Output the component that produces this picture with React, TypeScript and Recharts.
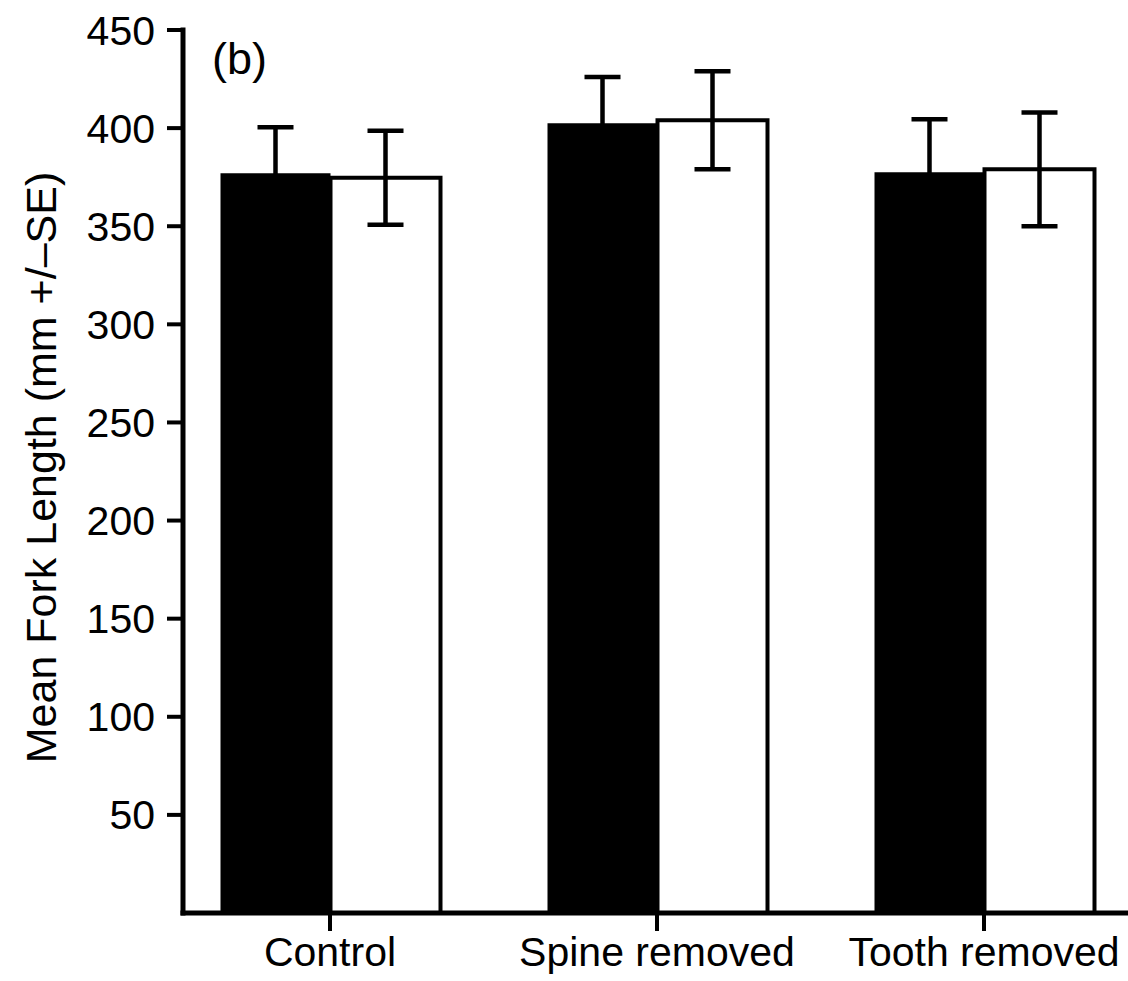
import { BarChart, Bar, XAxis, YAxis, ErrorBar, Label } from 'recharts';

const categories = ['Control', 'Spine removed', 'Tooth removed'];
const blackMeans = [377, 402.5, 377.5];
const blackSE = [23.5, 23.5, 27];
const whiteMeans = [374.7, 404, 379];
const whiteSE = [24, 25, 29];
const yTicks = [50, 100, 150, 200, 250, 300, 350, 400, 450];

const data = categories.map((name, i) => ({
  name,
  black: blackMeans[i],
  blackErr: blackSE[i],
  white: whiteMeans[i],
  whiteErr: whiteSE[i],
}));

const font = '"Liberation Sans", Arial, Helvetica, sans-serif';

export default function App() {
  return (
    <div style={{ position: 'absolute', left: 0, top: 0, background: '#fff' }}>
      <BarChart
        width={1128}
        height={981}
        data={data}
        margin={{ top: 30, right: 0, bottom: 0, left: 0 }}
        barGap={0}
        style={{ fontFamily: font }}
      >
        <XAxis
          dataKey="name"
          interval={0}
          height={68}
          padding={{ left: -16.5, right: -19.5 }}
          axisLine={{ stroke: '#000', strokeWidth: 5, strokeLinecap: 'square' }}
          tickLine={{ stroke: '#000', strokeWidth: 4 }}
          tickSize={18}
          tickMargin={6}
          tick={{ fill: '#000', fontSize: 41 }}
        />
        <YAxis
          domain={[0, 450]}
          ticks={yTicks}
          width={183}
          axisLine={{ stroke: '#000', strokeWidth: 5, strokeLinecap: 'square' }}
          tickLine={{ stroke: '#000', strokeWidth: 4 }}
          tickSize={16}
          tickMargin={12}
          tick={{ fill: '#000', fontSize: 41 }}
        >
          <Label
            content={({ viewBox }: any) => {
              const x = viewBox.x + 56;
              const y = viewBox.y + viewBox.height / 2 - 4;
              return (
                <text
                  x={x}
                  y={y}
                  transform={`rotate(-90 ${x} ${y})`}
                  textAnchor="middle"
                  fontSize={43}
                  fill="#000"
                  fontFamily={font}
                >
                  Mean Fork Length (mm +/–SE)
                </text>
              );
            }}
          />
          <Label
            content={({ viewBox }: any) => (
              <text
                x={viewBox.x + viewBox.width + 29}
                y={viewBox.y + 44}
                fontSize={45}
                fill="#000"
                fontFamily={font}
              >
                (b)
              </text>
            )}
          />
        </YAxis>
        <Bar dataKey="black" fill="#000" barSize={110} isAnimationActive={false}>
          <ErrorBar dataKey="blackErr" width={18} stroke="#000" strokeWidth={4.5} isAnimationActive={false} />
        </Bar>
        <Bar dataKey="white" fill="#fff" stroke="#000" strokeWidth={4} barSize={110} isAnimationActive={false}>
          <ErrorBar dataKey="whiteErr" width={18} stroke="#000" strokeWidth={4.5} isAnimationActive={false} />
        </Bar>
      </BarChart>
    </div>
  );
}
